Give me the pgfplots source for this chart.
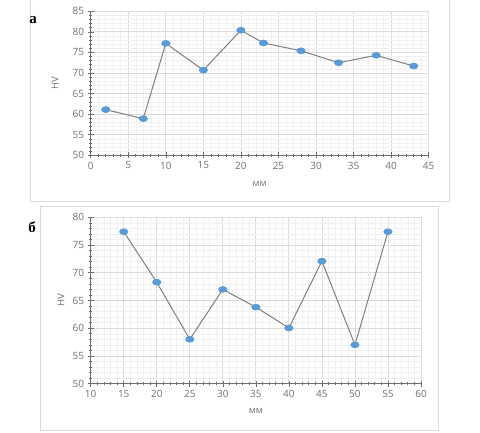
\documentclass[border=0pt]{standalone}
\usepackage{pgfplots}
\pgfplotsset{compat=1.18}
\usepackage{fontspec}
\setmainfont{Open Sans}
\newfontfamily\labfont{Liberation Serif}
\definecolor{axc}{HTML}{6E6E6E}
\definecolor{labc}{HTML}{707070}
\definecolor{gridmaj}{HTML}{DCDCDC}
\definecolor{gridmin}{HTML}{F0F0F0}
\definecolor{linec}{HTML}{7F7F7F}
\definecolor{markc}{HTML}{5B9BD5}
\definecolor{framec}{HTML}{D9D9D9}
\pgfplotsset{myax/.style={
  scale only axis,
  axis x line=bottom, axis y line=left,
  axis line style={draw=axc, line width=0.8pt, -},
  tick style={draw=axc, line width=0.6pt},
  major tick length=6pt, minor tick length=3.5pt, tick align=center,
  grid=both,
  major grid style={draw=gridmaj, line width=0.8pt},
  minor grid style={draw=gridmin, line width=0.5pt},
  minor x tick num=4, minor y tick num=4,
  /pgf/number format/assume math mode=true,
  tick label style={font=\fontsize{10}{12}\selectfont, text=labc},
  label style={font=\fontsize{9.5}{11}\selectfont, text=labc},
  clip=false,
}}
\begin{document}
\begin{tikzpicture}
\useasboundingbox (0pt,0pt) rectangle (480pt,432pt);
\draw[framec, line width=0.8pt] (30pt,432pt)--(30pt,231pt)--(449pt,231pt)--(449pt,432pt);
\draw[framec, line width=0.8pt] (40pt,2pt) rectangle (438pt,226pt);
\node[font=\labfont\bfseries\fontsize{15}{18}\selectfont, anchor=center] at (33pt,412pt) {а};
\node[font=\labfont\bfseries\fontsize{15}{18}\selectfont, anchor=center] at (32pt,205pt) {б};
\begin{axis}[myax,
  at={(90.7pt,276.7pt)}, anchor=south west,
  width=338pt, height=144pt,
  xmin=0, xmax=45, ymin=50, ymax=85,
  xtick={0,5,...,45}, ytick={50,55,...,85},
  xlabel={мм}, ylabel={HV},
  xlabel style={at={(axis description cs:0.5,-0.2)}, anchor=center},
  ylabel style={at={(axis description cs:-0.106,0.5)}, anchor=center},
]
\addplot[color=linec, line width=1pt, mark=*, mark size=3.1pt,
  mark options={draw=markc, fill=markc, xscale=1.3, yscale=0.9}]
  coordinates {(2,61.1) (7,58.9) (10,77.2) (15,70.7) (20,80.4) (23,77.3) (28,75.4) (33,72.5) (38,74.3) (43,71.7)};
\end{axis}
\begin{axis}[myax,
  at={(90.7pt,48.3pt)}, anchor=south west,
  width=330.3pt, height=166.4pt,
  xmin=10, xmax=60, ymin=50, ymax=80,
  xtick={10,15,...,60}, ytick={50,55,...,80},
  xlabel={мм}, ylabel={HV},
  xlabel style={at={(axis description cs:0.5,-0.164)}, anchor=center},
  ylabel style={at={(axis description cs:-0.09,0.5)}, anchor=center},
]
\addplot[color=linec, line width=1pt, mark=*, mark size=3.1pt,
  mark options={draw=markc, fill=markc, xscale=1.3, yscale=0.9}]
  coordinates {(15,77.4) (20,68.3) (25,58.0) (30,67.0) (35,63.8) (40,60.05) (45,72.1) (50,57.0) (55,77.4)};
\end{axis}
\end{tikzpicture}
\end{document}
